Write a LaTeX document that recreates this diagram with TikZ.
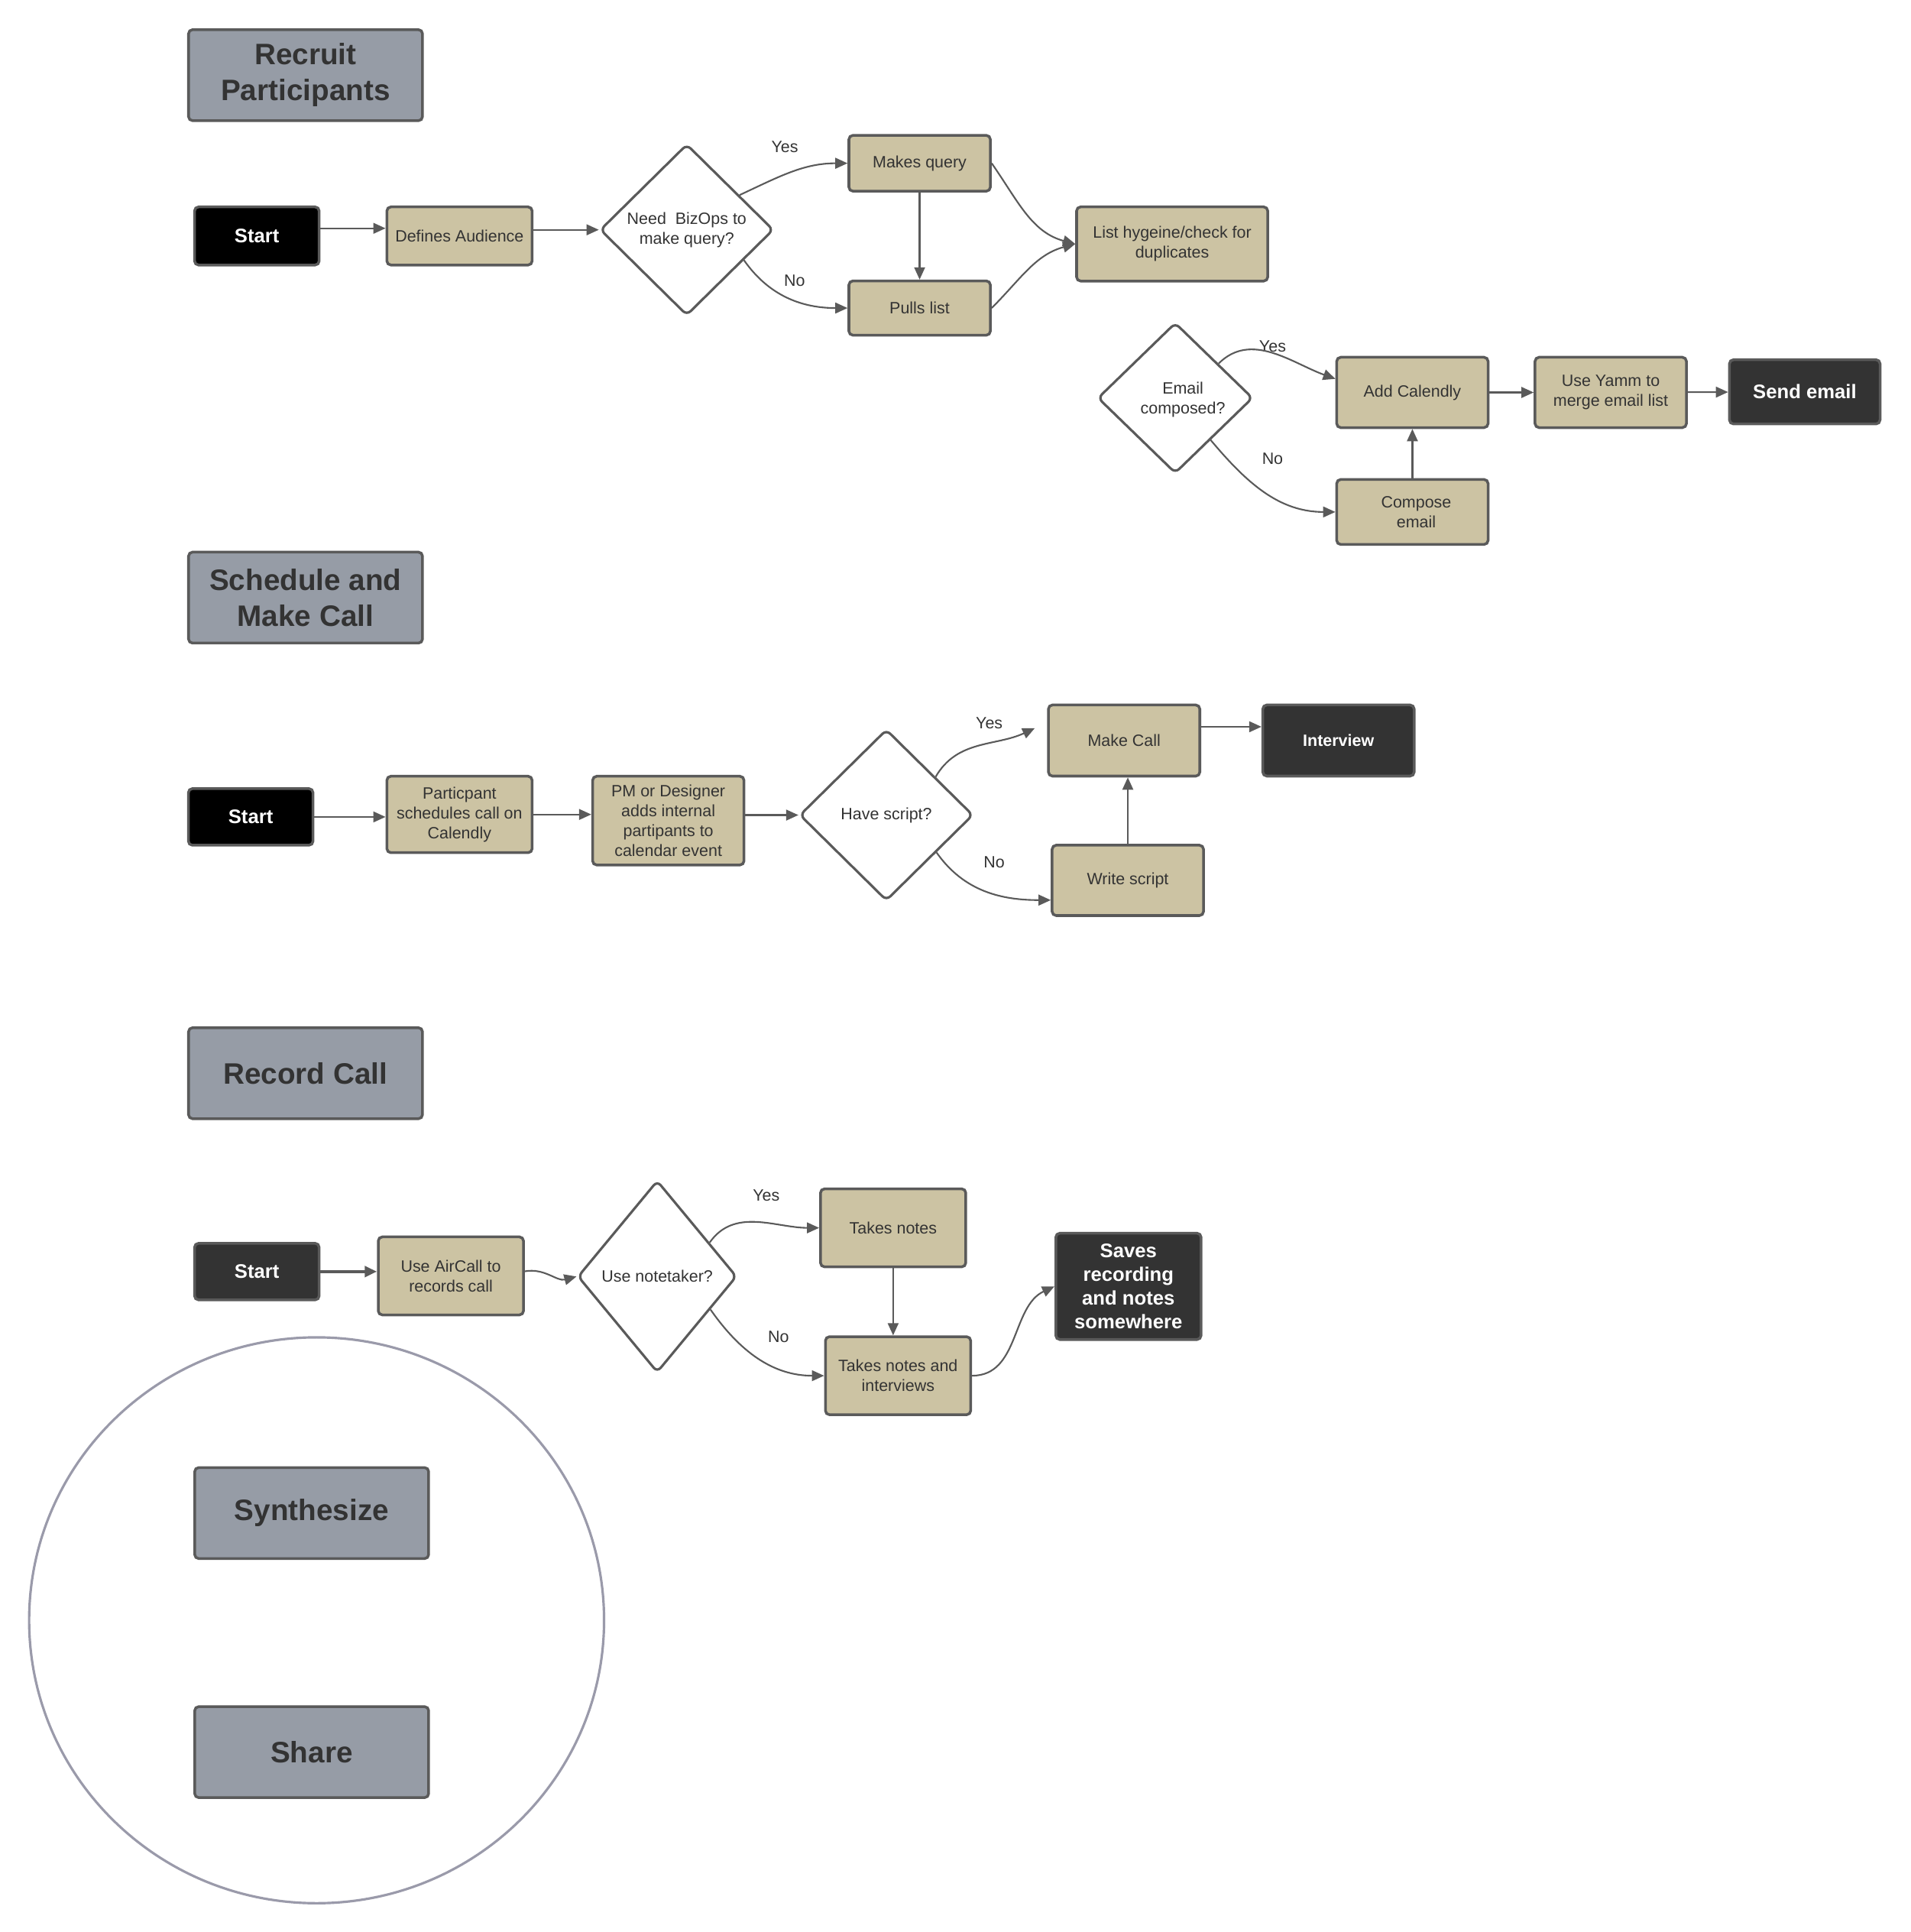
\documentclass[tikz,border=0pt]{standalone}
\usepackage{fontspec}
\setmainfont{Liberation Sans}
\usetikzlibrary{shapes.geometric,arrows.meta,calc}
\definecolor{stone}{HTML}{CCC3A3}
\definecolor{slate}{HTML}{969CA6}
\definecolor{charcoal}{HTML}{333333}
\definecolor{rim}{HTML}{5A5A5A}
\definecolor{ringgray}{HTML}{9A9AAA}

\begin{document}
\begin{tikzpicture}[x=0.01612cm,y=0.01612cm,
  font=\fontsize{6.1}{7.4}\selectfont,
  box/.style={draw=rim,line width=1pt,fill=stone,rounded corners=1.5pt,align=center,text=charcoal,inner sep=1pt},
  term/.style={box,fill=charcoal,text=white,font=\fontsize{7.3}{8.8}\selectfont\bfseries},
  phase/.style={draw=rim,line width=1pt,fill=slate,rounded corners=1.5pt,align=center,text=charcoal,
                minimum width=3.06cm,minimum height=1.19cm,font=\fontsize{11}{13.3}\selectfont\bfseries},
  choice/.style={diamond,draw=rim,line width=0.9pt,fill=white,rounded corners=2pt,align=center,text=charcoal,inner sep=0pt},
  flow/.style={-{Triangle[length=1.6mm,width=1.4mm]},draw=rim,line width=0.6pt},
  lbl/.style={text=charcoal}]
  \useasboundingbox (0,0) rectangle (1551,-1568);

  % recruit participants
  \node[phase] (hRecruit) at (248,-61) {Recruit\\Participants};
  \node[term,fill=black,minimum width=1.63cm,minimum height=0.76cm] (start1) at (208.5,-191.5) {Start};
  \node[box,minimum width=1.90cm,minimum height=0.76cm] (audience) at (373,-191.5) {Defines Audience};
  \node[choice,minimum width=2.27cm,minimum height=2.24cm] (needBiz) at (557.5,-186.5) {Need\ \ BizOps to\\make query?};
  \node[box,minimum width=1.85cm,minimum height=0.73cm] (query) at (746.5,-132.5) {Makes query};
  \node[box,minimum width=1.85cm,minimum height=0.71cm] (pulls) at (746.5,-250) {Pulls list};
  \node[box,minimum width=2.50cm,minimum height=0.97cm] (hygiene) at (951.5,-198) {List hygeine/check for\\duplicates};
  \node[choice,minimum width=2.03cm,minimum height=1.97cm,text depth=0pt] (composed) at (954,-323) {\hspace*{2mm}Email\\\hspace*{2mm}composed?};
  \node[box,minimum width=1.98cm,minimum height=0.92cm] (calendly) at (1146.5,-318.5) {Add Calendly};
  \node[box,minimum width=1.98cm,minimum height=0.85cm] (compose) at (1146.5,-415.5) {\hspace*{1mm}Compose\\\hspace*{1mm}email};
  \node[box,minimum width=1.98cm,minimum height=0.92cm] (yamm) at (1307.5,-318.5) {Use Yamm to\\merge email list};
  \node[term,minimum width=1.97cm,minimum height=0.84cm] (send) at (1465,-318) {Send email};

  \node[lbl] (yes1) at (637,-119) {Yes};
  \node[lbl] (no1) at (645,-228) {No};
  \node[lbl] (yes2) at (1033,-281) {Yes};
  \node[lbl] (no2) at (1033,-372) {No};

  \draw[flow] ([yshift=1mm]start1.east) -- ([yshift=1mm]start1.east -| audience.west);
  \draw[flow] (audience.east |- needBiz.west) -- (needBiz.west);
  \draw[flow] ($(needBiz.north)!0.6!(needBiz.east)$) to[out=25,in=180] (query.west);
  \draw[flow] ($(needBiz.east)!0.35!(needBiz.south)$) to[out=-55,in=180] (pulls.west);
  \draw[flow] (query) -- (pulls);
  \draw[flow] (query.east) to[out=-55,in=165] (hygiene.west);
  \draw[flow] (pulls.east) to[out=45,in=195] (hygiene.west);
  \draw[flow] ($(composed.north)!0.55!(composed.east)$) to[out=45,in=160] ($(calendly.west)+(0,11)$);
  \draw[flow] ($(composed.east)!0.55!(composed.south)$) to[out=-50,in=180] (compose.west);
  \draw[flow] (compose.north) -- (calendly.south);
  \draw[flow] (calendly) -- (yamm);
  \draw[flow] (yamm) -- (send);

  % schedule and make call
  \node[phase] (hSchedule) at (248,-485) {Schedule and\\Make Call};
  \node[term,fill=black,minimum width=1.63cm,minimum height=0.74cm] (start2) at (203.5,-663) {Start};
  \node[box,minimum width=1.90cm,minimum height=1.00cm] (books) at (373,-661) {Particpant\\schedules call on\\Calendly};
  \node[box,minimum width=1.98cm,minimum height=1.16cm] (invite) at (542.5,-666) {PM or Designer\\adds internal\\partipants to\\calendar event};
  \node[choice,minimum width=2.27cm,minimum height=2.24cm] (script) at (719.5,-661.5) {Have script?};
  \node[box,minimum width=1.98cm,minimum height=0.93cm] (call) at (912.5,-601) {Make Call};
  \node[term,font=\fontsize{6.1}{7.4}\selectfont\bfseries,minimum width=1.98cm,minimum height=0.93cm] (interview) at (1086.5,-601) {Interview};
  \node[box,minimum width=1.98cm,minimum height=0.92cm] (write) at (915.5,-714.5) {Write script};

  \node[lbl] (yes3) at (803,-587) {Yes};
  \node[lbl] (no3) at (807,-700) {No};

  \draw[flow] (start2.east) -- (start2.east -| books.west);
  \draw[flow] (books) -- (invite.west |- books);
  \draw[flow] (invite.east |- script.west) -- (script.west);
  \draw[flow] ($(script.north)!0.56!(script.east)$) to[out=60,in=205] ($(call.west)+(-10,10)$);
  \draw[flow] ($(script.east)!0.43!(script.south)$) to[out=-55,in=180] ($(write.west)+(0,-16)$);
  \draw[flow] (write.north) -- (write.north |- call.south);
  \draw[flow] ([yshift=1.8mm]call.east) -- ([yshift=1.8mm]call.east -| interview.west);

  % record call
  \node[phase] (hRecord) at (248,-871) {Record Call};
  \node[term,minimum width=1.63cm,minimum height=0.74cm] (start3) at (208.5,-1032) {Start};
  \node[box,minimum width=1.90cm,minimum height=1.02cm] (aircall) at (366,-1035.5) {Use AirCall to\\records call};
  \node[choice,minimum width=2.08cm,minimum height=2.51cm] (notetaker) at (533.5,-1036) {Use notetaker?};
  \node[box,minimum width=1.90cm,minimum height=1.02cm] (notes) at (725,-996.5) {Takes notes};
  \node[box,minimum width=1.90cm,minimum height=1.02cm] (both) at (729,-1116.5) {Takes notes and\\interviews};
  \node[term,minimum width=1.90cm,minimum height=1.39cm] (saves) at (916,-1044) {Saves\\recording\\and notes\\somewhere};

  \node[lbl] (yes4) at (622,-970) {Yes};
  \node[lbl] (no4) at (632,-1085) {No};

  \draw[flow,line width=1.2pt] (start3.east) -- (start3.east -| aircall.west);
  \draw[flow] ([yshift=0.06cm]aircall.east) to[out=10,in=195] (notetaker.west);
  \draw[flow] ($(notetaker.north)!0.65!(notetaker.east)$) to[out=55,in=180] (notes.west);
  \draw[flow] ($(notetaker.east)!0.34!(notetaker.south)$) to[out=-55,in=180] (both.west);
  \draw[flow] (notes.south) -- (notes.south |- both.north);
  \draw[flow] (both.east) to[out=0,in=205] (saves.west);

  % synthesize and share
  \draw[ringgray,line width=0.9pt] (257,-1315) circle[x radius=3.76cm,y radius=3.70cm];
  \node[phase] (hSynth) at (253,-1228) {Synthesize};
  \node[phase] (hShare) at (253,-1422) {Share};
\end{tikzpicture}
\end{document}
